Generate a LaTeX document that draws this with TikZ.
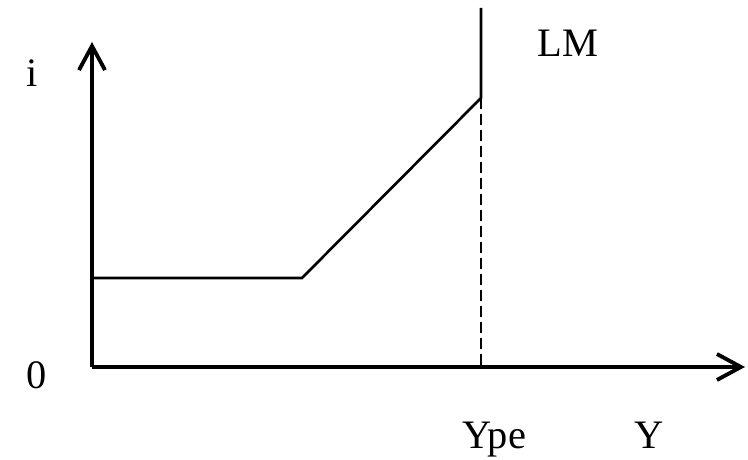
\documentclass[tikz,border=0pt]{standalone}
\usepackage{fontspec}
\setmainfont{Liberation Serif}
\usetikzlibrary{arrows.meta}

\begin{document}
\begin{tikzpicture}[
  axis/.style={line width=2.2pt, -{Straight Barb[length=0.48cm,width=0.52cm,line width=2.2pt]}},
  curve/.style={line width=1.5pt},
  guide/.style={line width=1.5pt, dash pattern=on 0.22cm off 0.1cm},
  lbl/.style={font=\fontsize{23}{27}\selectfont, inner sep=0pt, anchor=base west}
]
\useasboundingbox (-1.84,-1.84) rectangle (13.12,7.34);
% axes
\coordinate (O) at (0,0);
\coordinate (yend) at (0,6.5);
\coordinate (xend) at (13.06,0);
\draw[axis] (O) -- (yend);
\draw[axis] (O) -- (xend);
% LM curve
\coordinate (lmleft) at (0,1.78);
\coordinate (kinkA) at (4.2,1.78);
\coordinate (kinkB) at (7.78,5.38);
\coordinate (lmtop) at (7.78,7.18);
\coordinate (ypefoot) at (7.78,0);
\draw[curve] (lmleft) -- (kinkA) -- (kinkB) -- (lmtop);
\draw[guide] (kinkB) -- (ypefoot);
% labels
\node[lbl] (lm) at (8.9,6.2) {LM};
\node[lbl] (ilab) at (-1.32,5.6) {i};
\node[lbl] (zero) at (-1.32,-0.42) {0};
\node[lbl] (ype) at (7.4,-1.62) {Ype};
\node[lbl] (ylab) at (10.84,-1.62) {Y};
\end{tikzpicture}
\end{document}
